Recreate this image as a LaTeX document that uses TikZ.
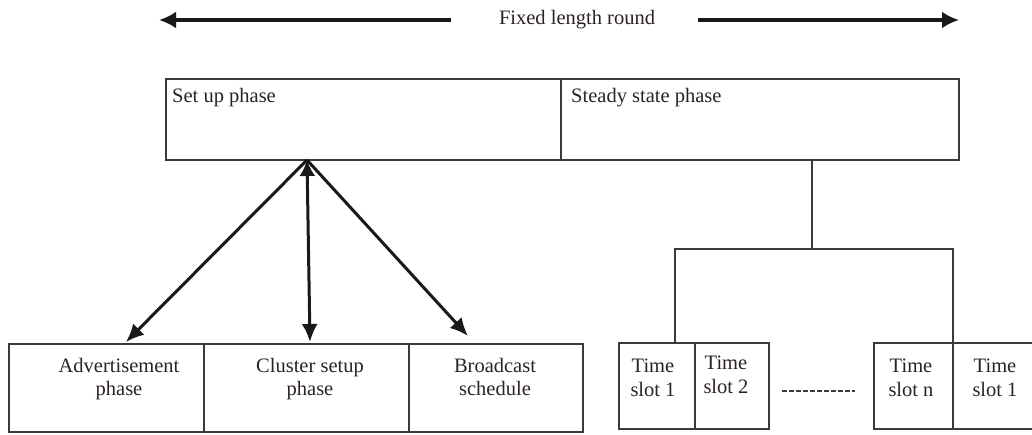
\documentclass[tikz,border=0pt]{standalone}
\usepackage{fontspec}
\setmainfont{Liberation Serif}
\usetikzlibrary{arrows.meta,calc}
\definecolor{ln}{HTML}{3A3A3A}
\definecolor{tx}{HTML}{2B2222}
\begin{document}
\begin{tikzpicture}[x=1pt,y=-1pt,
  box/.style={draw=ln,line width=2pt,anchor=north west,inner sep=0pt,outer sep=0pt},
  lbl/.style={text=tx,inner sep=0pt,font=\fontsize{20.5}{23.5}\selectfont,align=center},
  toparrow/.style={draw=black!90,line width=3.5pt,-{Latex[length=17pt,width=17pt]}},
  arr/.style={draw=black!90,line width=3pt,-{Latex[length=18pt,width=16pt]}},
  arrup/.style={draw=black!90,line width=3pt,{Latex[length=16pt,width=16pt]}-{Latex[length=18pt,width=16pt]}},
  tree/.style={draw=ln,line width=2pt},
  dots/.style={draw=ln,line width=2.5pt,dash pattern=on 5pt off 2pt}]
\useasboundingbox (0,0) rectangle (1032,435);
% title arrow
\node[lbl] (title) at (577,20) {Fixed length round};
\coordinate (lstart) at (451,20);
\coordinate (la) at (159,20);
\coordinate (rstart) at (698,20);
\coordinate (ra) at (959,20);
\draw[toparrow] (lstart) -- (la);
\draw[toparrow] (rstart) -- (ra);
% top boxes
\node[box,minimum width=395pt,minimum height=81pt] (setup) at (166,79) {};
\node[box,minimum width=398pt,minimum height=81pt] (steady) at (561,79) {};
\node[lbl,anchor=west] (setuptxt) at (172,98) {Set up phase};
\node[lbl,anchor=west] (steadytxt) at (571,98) {Steady state phase};
% bottom-left boxes
\node[box,minimum width=195pt,minimum height=88pt] (adv) at (9,344) {};
\node[box,minimum width=205pt,minimum height=88pt] (cluster) at (204,344) {};
\node[box,minimum width=174pt,minimum height=88pt] (bcast) at (409,344) {};
\node[lbl] (advt) at (119,379) {Advertisement\\phase};
\node[lbl] (clustert) at (310,379) {Cluster setup\\phase};
\node[lbl] (bcastt) at (495,377) {Broadcast\\schedule};
% arrows
\coordinate (apex) at (307,160);
\coordinate (advtip) at (126,342);
\coordinate (clustertip) at (310,342);
\coordinate (bcasttip) at (468,336);
\draw[arr] (apex) -- (advtip);
\draw[arr] (apex) -- (bcasttip);
\draw[arrup] (apex) -- (clustertip);
% time slots
\node[box,minimum width=76pt,minimum height=86pt] (ts1) at (619,343) {};
\node[box,minimum width=74pt,minimum height=86pt] (ts2) at (695,343) {};
\node[box,minimum width=79pt,minimum height=86pt] (tsn) at (874,343) {};
\node[box,minimum width=90pt,minimum height=86pt] (tsb) at (953,343) {};
\node[lbl] (ts1t) at (653,378) {Time\\slot 1};
\node[lbl] (ts2t) at (726,375) {Time\\slot 2};
\node[lbl] (tsnt) at (911,378) {Time\\slot n};
\node[lbl] (tsbt) at (995,378) {Time\\slot 1};
\draw[dots] (ts2.east) ++(13,5) coordinate (dstart) -- ($(tsn.west)+(-19,5)$);
% tree
\coordinate (fork) at (812,249);
\coordinate (drop1) at (675,343);
\draw[tree] (fork |- steady.south) -- (fork);
\draw[tree] (drop1) |- (fork) -| (tsn.north east);
\end{tikzpicture}
\end{document}
